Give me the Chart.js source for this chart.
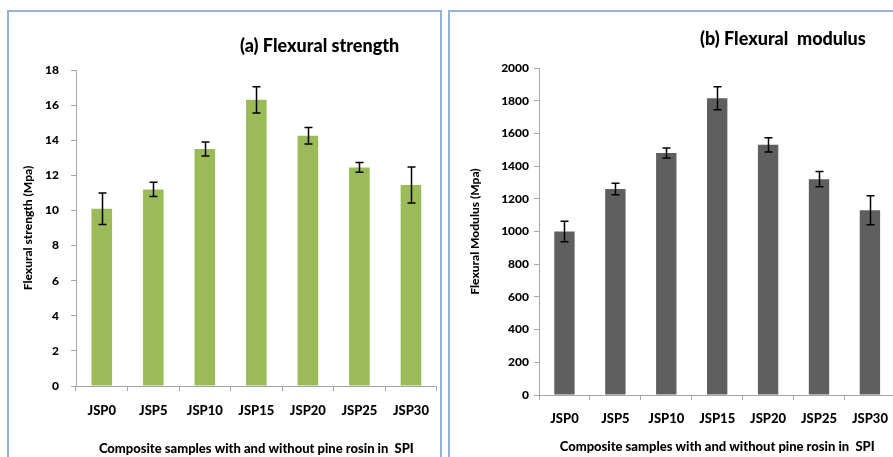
<!DOCTYPE html>
<html>
<head>
<meta charset="utf-8">
<script src="https://cdn.jsdelivr.net/npm/chart.js@4.4.1/dist/chart.umd.min.js"></script>
<style>
  body { margin: 0; width: 893px; height: 457px; overflow: hidden; background: #fff; position: relative; }
  .panel { position: absolute; border: 2px solid #95b3d7; box-sizing: border-box; background: #fff; }
  #panelA { left: 7px; top: 10px; width: 435px; height: 470px; }
  #panelB { left: 448px; top: 10px; width: 470px; height: 470px; }
  .heading { position: absolute; font-family: Lato, sans-serif; font-weight: 900; font-size: 18px; white-space: pre; color: #000; line-height: 1; }
  #headA { left: 240px; top: 36px; }
  #headB { left: 700px; top: 29px; }
  canvas { position: absolute; }
  #strengthChart { left: 8px; top: 11px; }
  #modulusChart { left: 449px; top: 11px; }
</style>
</head>
<body>
<div class="panel" id="panelA"></div>
<div class="panel" id="panelB"></div>
<canvas id="strengthChart" width="433" height="446"></canvas>
<canvas id="modulusChart" width="450" height="446"></canvas>
<div class="heading" id="headA">(a) Flexural strength</div>
<div class="heading" id="headB">(b) Flexural  modulus</div>
<script>
'use strict';

// sample names and measured values (mean and +/- deviation)
const samples = ['JSP0', 'JSP5', 'JSP10', 'JSP15', 'JSP20', 'JSP25', 'JSP30'];
const strength = [10.1, 11.2, 13.5, 16.3, 14.25, 12.45, 11.45];
const strengthErr = [0.9, 0.4, 0.4, 0.75, 0.47, 0.28, 1.03];
const modulus = [1000, 1260, 1480, 1815, 1530, 1320, 1130];
const modulusErr = [62, 35, 30, 70, 44, 47, 88];

const xTitle = 'Composite samples with and without pine rosin in  SPI';
const axisGrey = '#a6a6a6';
const font = 'Lato';

// draws capped error bars on top of each bar
const errorBars = {
  id: 'errorBars',
  afterDatasetsDraw(chart, args, opts) {
    const ctx = chart.ctx;
    const y = chart.scales.y;
    const values = chart.data.datasets[0].data;
    ctx.save();
    ctx.strokeStyle = '#000';
    ctx.lineWidth = 1.5;
    chart.getDatasetMeta(0).data.forEach((bar, i) => {
      const hi = y.getPixelForValue(values[i] + opts.errors[i]);
      const lo = y.getPixelForValue(values[i] - opts.errors[i]);
      const x = Math.round(bar.x) + 0.5;
      ctx.beginPath();
      ctx.moveTo(x, hi); ctx.lineTo(x, lo);
      ctx.moveTo(x - 4, hi); ctx.lineTo(x + 4, hi);
      ctx.moveTo(x - 4, lo); ctx.lineTo(x + 4, lo);
      ctx.stroke();
    });
    ctx.restore();
  }
};

function barChart(target, values, errors, color, cfg) {
  const ctx = document.getElementById(target).getContext('2d');
  return new Chart(ctx, {
    type: 'bar',
    data: {
      labels: samples,
      datasets: [{
        data: values,
        backgroundColor: color,
        categoryPercentage: 1,
        barPercentage: 0.4
      }]
    },
    options: {
      responsive: false,
      animation: false,
      layout: { padding: cfg.padding },
      plugins: {
        legend: { display: false },
        tooltip: { enabled: false },
        errorBars: { errors: errors }
      },
      scales: {
        x: {
          afterFit(scale) { scale.height = cfg.xHeight; },
          grid: { drawOnChartArea: false, tickLength: 5, color: axisGrey },
          border: { color: axisGrey },
          ticks: { color: '#000', padding: cfg.xPad, font: { family: font, weight: 900, size: 13 } },
          title: {
            display: true, text: xTitle, color: '#000',
            padding: { top: 0, bottom: cfg.xTitlePad },
            font: { family: font, weight: 900, size: 13 }
          }
        },
        y: {
          min: 0, max: cfg.max,
          afterFit(scale) { scale.width = cfg.yWidth; },
          grid: { drawOnChartArea: false, tickLength: 5, color: axisGrey },
          border: { color: axisGrey },
          ticks: {
            stepSize: cfg.step, color: '#000', padding: cfg.yPad,
            font: { family: font, weight: 900, size: 12 },
            callback: v => String(v)
          },
          title: {
            display: true, text: cfg.yTitle, color: '#000',
            padding: { top: cfg.yTitlePad, bottom: 0 },
            font: { family: font, weight: 900, size: 12 }
          }
        }
      }
    },
    plugins: [errorBars]
  });
}

barChart('strengthChart', strength, strengthErr, '#9bbb59', {
  padding: { top: 59, right: 1, left: 0, bottom: 0 },
  max: 18, step: 2,
  xHeight: 71, yWidth: 68,
  xPad: 12, yPad: 12,
  xTitlePad: 0, yTitlePad: 13,
  yTitle: 'Flexural strength (Mpa)'
});

barChart('modulusChart', modulus, modulusErr, '#5f5f5f', {
  padding: { top: 57, right: 1, left: 0, bottom: 0 },
  max: 2000, step: 200,
  xHeight: 62, yWidth: 90,
  xPad: 11, yPad: 5,
  xTitlePad: 2, yTitlePad: 19,
  yTitle: 'Flexural Modulus (Mpa)'
});
</script>
</body>
</html>
